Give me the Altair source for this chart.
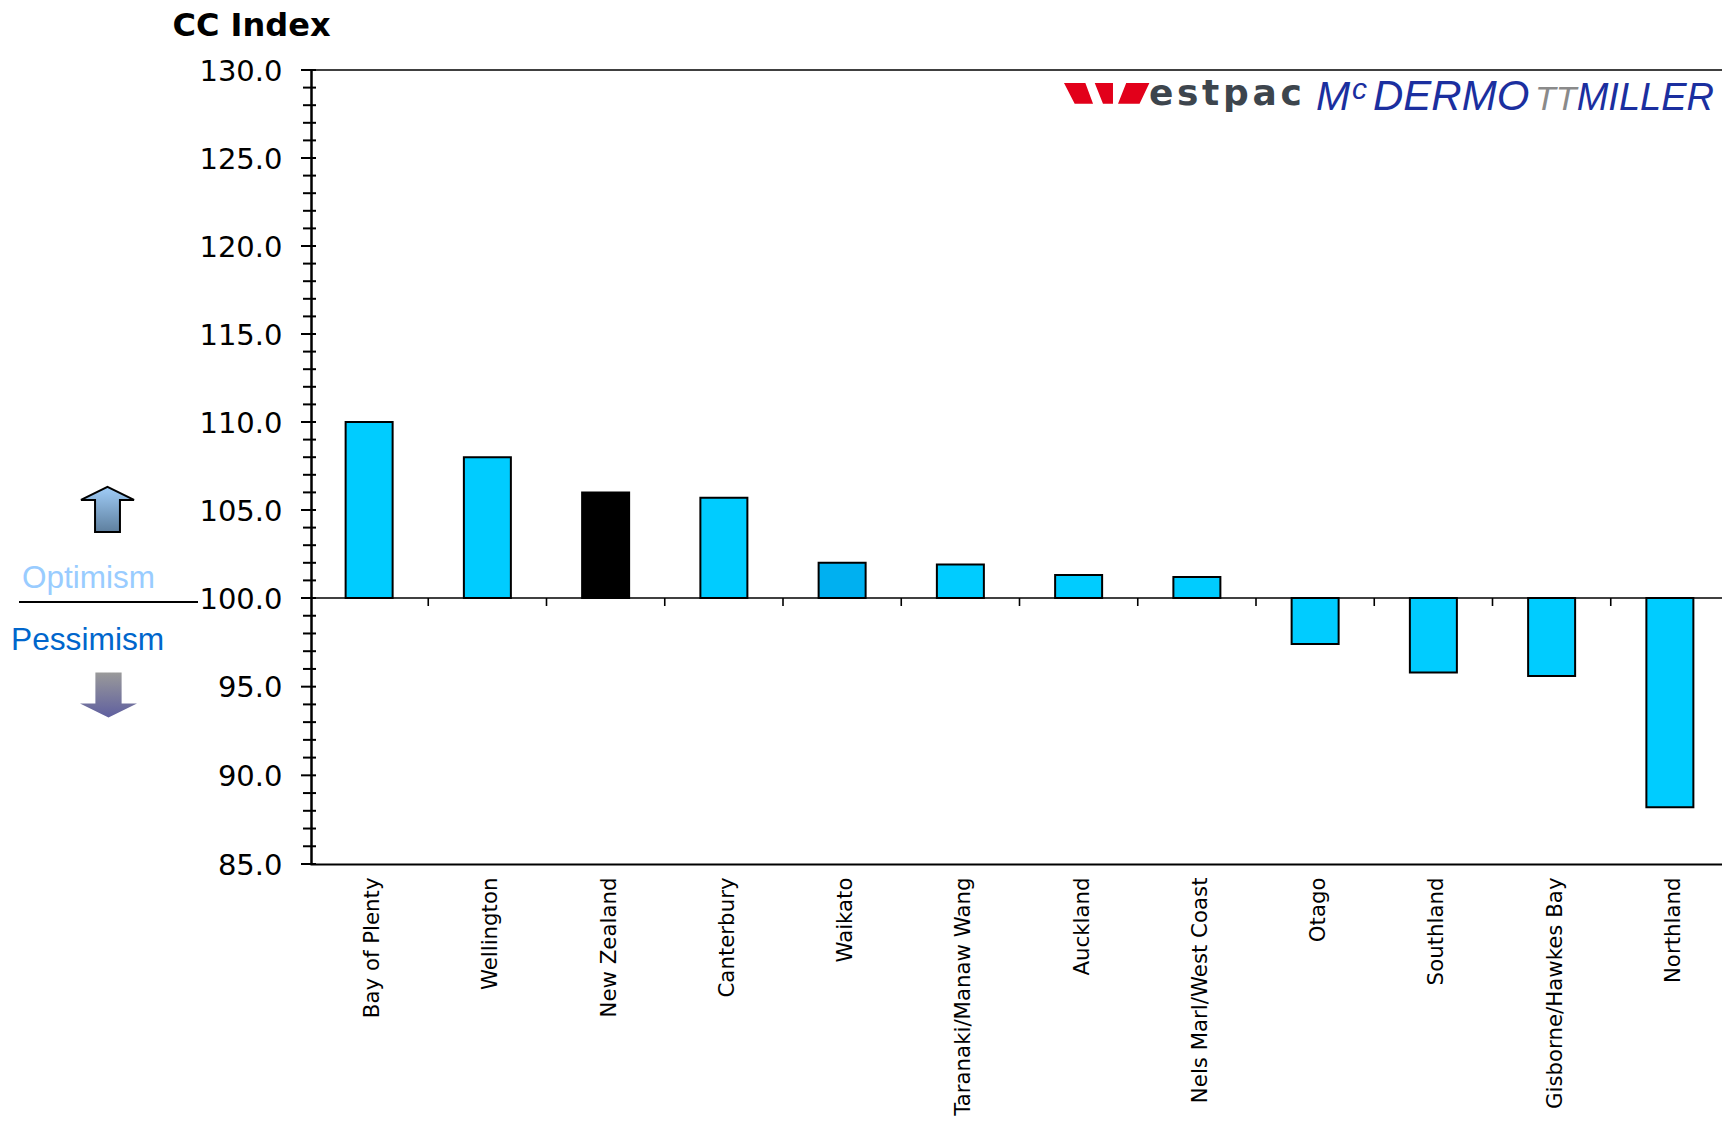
import altair as alt
import pandas as pd

categories = ["Bay of Plenty", "Wellington", "New Zealand", "Canterbury", "Waikato",
              "Taranaki/Manaw Wang", "Auckland", "Nels Marl/West Coast", "Otago",
              "Southland", "Gisborne/Hawkes Bay", "Northland"]
values = [110.0, 108.0, 106.0, 105.7, 102.0, 101.9, 101.3, 101.2, 97.4, 95.8, 95.6, 88.2]
colors = ["#00CCFF", "#00CCFF", "#000000", "#00CCFF", "#00B0F0", "#00CCFF",
          "#00CCFF", "#00CCFF", "#00CCFF", "#00CCFF", "#00CCFF", "#00CCFF"]
major_ticks = [85, 90, 95, 100, 105, 110, 115, 120, 125, 130]
minor_ticks = [v for v in range(85, 131) if v % 5]

OX, OY = 311, 70  # plot origin on the page
W, H = 1722 - OX, 794

xscale = alt.Scale(domain=categories, range=[-1, 1418], paddingInner=0, paddingOuter=0)
yscale = alt.Scale(domain=[85, 100, 130], range=[H, 528, 0], nice=False, zero=False)
xaxis = alt.Axis(labelAngle=-90, labelAlign="right", labelBaseline="middle", title=None,
                 labelFont="DejaVu Sans", labelFontSize=21.3, labelColor="black",
                 labelPadding=13, labelLimit=400, labelOffset=4, ticks=False, domainColor="black",
                 domainWidth=2.2, labelOverlap=False, grid=False)
yaxis = alt.Axis(values=major_ticks, format=".1f", ticks=False, grid=False,
                 domainColor="black", domainWidth=2.5, labelFont="DejaVu Sans",
                 labelFontSize=29, labelColor="black", labelPadding=29, labelOffset=1,
                 title="CC Index", titleAngle=0, titleX=-139, titleY=-35,
                 titleAlign="left", titleBaseline="alphabetic",
                 titleFont="DejaVu Sans", titleFontSize=32,
                 titleFontWeight="bold", titleColor="black")

df = pd.DataFrame({"region": categories, "value": values, "color": colors})

bars = alt.Chart(df).mark_bar(size=47, stroke="black", strokeWidth=2).encode(
    x=alt.X("region:N", sort=None, scale=xscale, axis=xaxis),
    y=alt.Y("value:Q", scale=yscale, axis=yaxis),
    y2=alt.datum(100),
    color=alt.Color("color:N", scale=None, legend=None),
)


def hline(level):
    return alt.Chart(pd.DataFrame({"v": [level]})).mark_rule(color="black", strokeWidth=1.6).encode(
        y=alt.Y("v:Q", scale=yscale, axis=yaxis), x=alt.value(-10), x2=alt.value(W))


def ticks(vals, left, right, width):
    return alt.Chart(pd.DataFrame({"v": vals})).mark_rule(color="black", strokeWidth=width).encode(
        y=alt.Y("v:Q", scale=yscale, axis=yaxis), x=alt.value(left), x2=alt.value(right))


cat_ticks = alt.Chart(pd.DataFrame({"region": categories[1:], "a": [100] * 11, "b": [99.55] * 11})).mark_rule(
    color="black", strokeWidth=1.6).encode(
    x=alt.X("region:N", sort=None, scale=xscale, bandPosition=0, axis=xaxis),
    y=alt.Y("a:Q", scale=yscale, axis=yaxis), y2="b:Q")

one = alt.Data(values=[{}])


def text(s, x, y, size, color, font="Liberation Sans", align="left", **kw):
    return alt.Chart(one).mark_text(text=s, font=font, fontSize=size, color=color, align=align,
                                    baseline="alphabetic", **kw).encode(
        x=alt.value(x - OX), y=alt.value(y - OY))


def shape(path, x, y, half, **kw):
    return alt.Chart(one).mark_point(shape=path, size=(2 * half) ** 2, filled=True, opacity=1, **kw).encode(
        x=alt.value(x - OX), y=alt.value(y - OY))


up = "M0,-0.85 L1,-0.36 L0.47,-0.36 L0.47,0.85 L-0.47,0.85 L-0.47,-0.36 L-1,-0.36 Z"
down = "M-0.46,-0.79 L0.46,-0.79 L0.46,0.3 L1,0.3 L0,0.79 L-1,0.3 L-0.46,0.3 Z"
wlogo = ("M-1,-0.243 L-0.5,-0.243 L-0.32,0.243 L-0.75,0.243 Z "
         "M-0.28,-0.243 L0.147,-0.243 L0.147,0.243 L-0.087,0.243 Z "
         "M0.457,-0.243 L1,-0.243 L0.77,0.243 L0.265,0.243 Z")


def grad(a, b):
    return alt.LinearGradient(gradient="linear", x1=0, y1=0, x2=0, y2=1,
                              stops=[alt.GradientStop(color=a, offset=0),
                                     alt.GradientStop(color=b, offset=1)])


logo_letters = ["e", "s", "t", "p", "a", "c"]
logo_x = [1149, 1177, 1202, 1223, 1252.6, 1280.6]

extras = [
    text("Optimism", 22, 588, 31.5, "#99CCFF"),
    text("Pessimism", 11, 650, 31.7, "#0066CC"),
    alt.Chart(one).mark_rule(color="black", strokeWidth=2).encode(
        x=alt.value(19 - OX), x2=alt.value(198 - OX), y=alt.value(602 - OY)),
    shape(up, 107.5, 509.5, 26.5, fill=grad("#A0CDF8", "#5E7F9E"), stroke="black", strokeWidth=2),
    shape(down, 108.5, 695, 28.5, fill=grad("#9A9A9A", "#5F5F9F")),
    shape(wlogo, 1106.7, 93.4, 42.7, fill="#E2001A"),
    *[text(c, x, 104.5, 36, "#3D454D", font="DejaVu Sans", fontWeight="bold")
      for c, x in zip(logo_letters, logo_x)],
    text("M", 1316, 110, 41, "#1B2F9F", fontStyle="italic"),
    text("c", 1352, 99, 30, "#1B2F9F", fontStyle="italic"),
    text("DERMO", 1373, 110, 42, "#1B2F9F", fontStyle="italic"),
    text("TT", 1535, 110, 34, "#8A8A8A", fontStyle="italic"),
    text("MILLER", 1714, 110, 38, "#1B2F9F", align="right", fontStyle="italic"),
]

chart = alt.layer(
    bars, hline(130), hline(100), cat_ticks,
    ticks(major_ticks, -10, 5, 2), ticks(minor_ticks, -8, 5, 2),
    *extras,
).properties(
    width=W, height=H,
    autosize=alt.AutoSizeParams(type="none"),
    padding={"left": OX - 8, "top": OY - 8, "right": 0, "bottom": 1113 - (OY - 8) - H},
).configure_view(stroke=None)

chart.save("out.html", embed_options={"renderer": "svg", "actions": False})
